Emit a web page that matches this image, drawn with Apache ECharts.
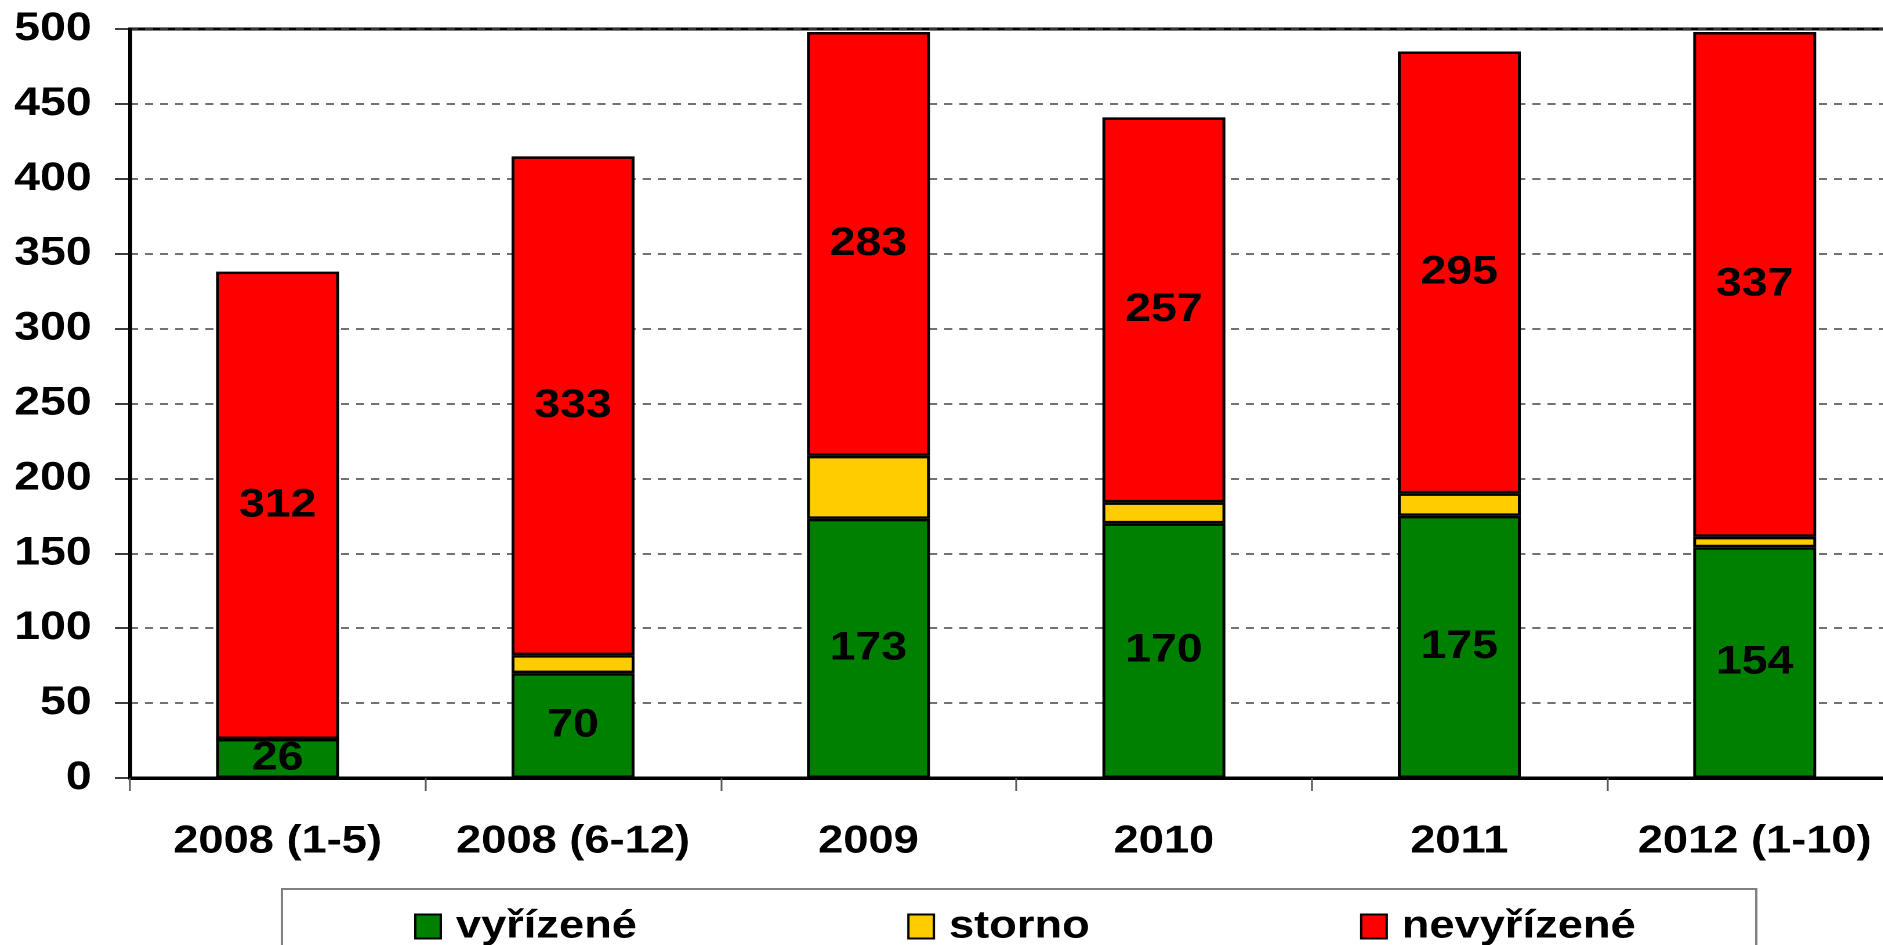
<!DOCTYPE html>
<html>
<head>
<meta charset="utf-8">
<script src="https://cdn.jsdelivr.net/npm/echarts@6/dist/echarts.min.js"></script>
<style>
html,body{margin:0;padding:0;background:#fff;overflow:hidden;}
#chart{width:1623px;height:945px;transform:scaleX(1.16);transform-origin:0 0;}
</style>
</head>
<body>
<div id="chart"></div>
<script>
const categories = ['2008 (1-5)', '2008 (6-12)', '2009', '2010', '2011', '2012 (1-10)'];
const vyrizene = [26, 70, 173, 170, 175, 154];
const storno = [0, 12, 42, 14, 15, 7];
const nevyrizene = [312, 333, 283, 257, 295, 337];
const seriesNames = ['vyřízené', 'storno', 'nevyřízené'];
const colors = ['#008000', '#FFCC00', '#FF0000'];

const font = 'Liberation Sans, Arial, sans-serif';
const chart = echarts.init(document.getElementById('chart'), null, {devicePixelRatio: 2});

function mk(name, data, color, showLabel) {
  return {
    name: name,
    type: 'bar',
    stack: 'total',
    data: data,
    barWidth: 106,
    itemStyle: {color: color, borderColor: '#000', borderWidth: 2.5},
    label: {
      show: showLabel,
      position: 'inside',
      color: '#000',
      fontFamily: font,
      fontWeight: 'bold',
      fontSize: 40,
      formatter: p => p.value > 0 ? String(p.value) : ''
    },
    emphasis: {disabled: true}
  };
}

chart.setOption({
  animation: false,
  backgroundColor: '#fff',
  grid: {
    left: 112, top: 29, width: 1528, height: 749,
    show: true, borderColor: '#000', borderWidth: 3, backgroundColor: 'transparent',
    containLabel: false,
    outerBoundsMode: 'none'
  },
  legend: {
    left: 243, top: 889,
    width: 1100,
    padding: [18, 104, 60, 114],
    borderColor: '#808080', borderWidth: 2,
    itemGap: 233,
    itemWidth: 22, itemHeight: 24,
    icon: 'rect',
    textStyle: {fontFamily: font, fontWeight: 'bold', fontSize: 39, color: '#000', padding: [0, 0, 0, 8]},
    data: seriesNames
  },
  xAxis: {
    type: 'category',
    data: categories,
    axisLine: {lineStyle: {color: '#000', width: 3}},
    axisTick: {show: true, length: 13, lineStyle: {color: '#555', width: 1.5}},
    axisLabel: {interval: 0, margin: 44, color: '#000', fontFamily: font, fontWeight: 'bold', fontSize: 39}
  },
  yAxis: {
    type: 'value',
    min: 0, max: 500, interval: 50,
    axisLine: {show: true, lineStyle: {color: '#000', width: 3}},
    axisTick: {show: true, length: 13, lineStyle: {color: '#000', width: 1.5}},
    axisLabel: {margin: 33, color: '#000', fontFamily: font, fontWeight: 'bold', fontSize: 40},
    splitLine: {show: true, lineStyle: {color: '#444', width: 1.5, type: [7, 6]}}
  },
  series: [
    mk(seriesNames[0], vyrizene, colors[0], true),
    mk(seriesNames[1], storno, colors[1], false),
    mk(seriesNames[2], nevyrizene, colors[2], true)
  ]
});
</script>
</body>
</html>
